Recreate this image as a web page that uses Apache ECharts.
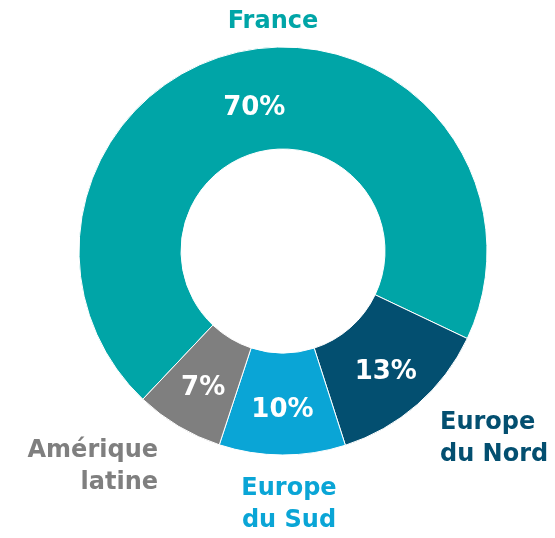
<!DOCTYPE html>
<html>
<head>
<meta charset="utf-8">
<script src="https://cdn.jsdelivr.net/npm/echarts@6/dist/echarts.min.js"></script>
<style>
  html, body { margin: 0; padding: 0; background: #fff; }
  #chart { width: 555px; height: 538px; }
</style>
</head>
<body>
<div id="chart"></div>
<script>
// données du graphique
var regions = ['France', 'Europe\ndu Nord', 'Europe\ndu Sud', 'Amérique\nlatine']
var shares = [70, 13, 10, 7]
var colors = ['#00A5A7', '#034F70', '#0AA5D6', '#7F7F7F']

// placement des étiquettes extérieures (x, y, alignement)
var labelPos = [
  [273, 22, 'center'],
  [440, 439, 'left'],
  [289, 505, 'center'],
  [158, 467, 'right']
]
// petit décalage vertical des pourcentages
var pctShift = [11, 4, 3, 3]

var chart = echarts.init(document.getElementById('chart'))

var pieData = regions.map(function (name, i) {
  return { name: name, value: shares[i], itemStyle: { color: colors[i] } }
})

var option = {
  animation: false,
  series: [
    {
      type: 'pie',
      center: [283, 251],
      radius: [102, 204],
      startAngle: 226.6,
      data: pieData,
      itemStyle: { borderColor: '#fff', borderWidth: 1 },
      label: {
        show: true,
        position: 'inside',
        formatter: '{c}%',
        color: '#fff',
        fontFamily: 'DejaVu Sans',
        fontWeight: 'bold',
        fontSize: 26
      },
      labelLayout: function (p) {
        return { dy: pctShift[p.dataIndex] }
      },
      labelLine: { show: false },
      silent: true
    },
    {
      // anneau invisible qui porte les noms
      type: 'pie',
      center: [283, 251],
      radius: [102, 204],
      startAngle: 226.6,
      data: pieData.map(function (d, i) {
        return {
          name: d.name,
          value: d.value,
          itemStyle: { color: 'transparent' },
          label: { color: colors[i] }
        }
      }),
      label: {
        show: true,
        position: 'outside',
        formatter: '{b}',
        overflow: 'none',
        fontFamily: 'DejaVu Sans',
        fontWeight: 'bold',
        fontSize: 24,
        lineHeight: 32
      },
      labelLine: { show: false },
      labelLayout: function (p) {
        var pos = labelPos[p.dataIndex]
        return { x: pos[0], y: pos[1], align: pos[2], verticalAlign: 'middle' }
      },
      silent: true
    }
  ]
}

chart.setOption(option)
</script>
</body>
</html>
